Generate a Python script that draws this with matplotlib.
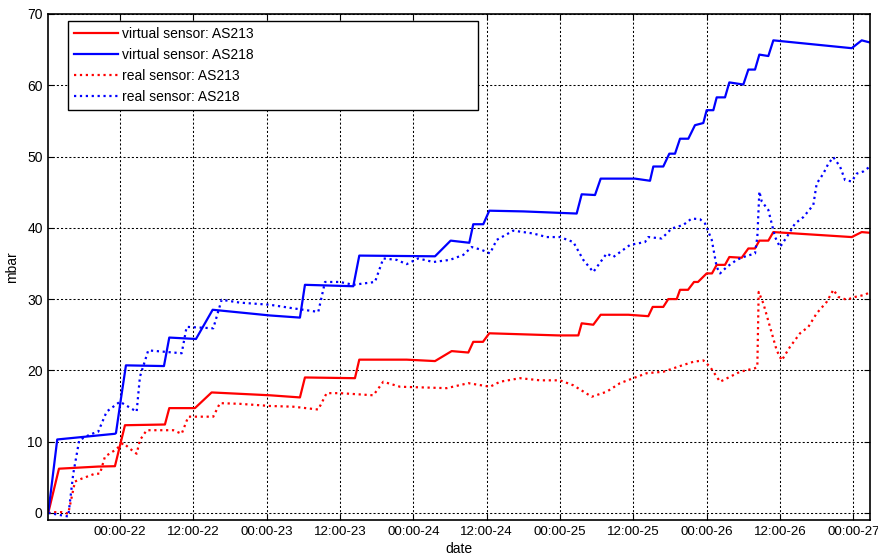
import matplotlib
matplotlib.use("Agg")
import matplotlib.pyplot as plt

plt.rcParams['font.family'] = ['Liberation Sans', 'DejaVu Sans']

# time axis in hours counted from 00:00 on day 22
t_virt_213 = [-11.73, -9.98, -3.55, -0.82, 0.82, 7.36, 8.07, 12.27, 15.0, 24.55, 29.45,
              30.27, 38.45, 39.16, 46.91, 51.55, 54.28, 57.0, 57.81, 59.40, 60.43,
              71.72, 75.0, 75.55, 77.45, 78.66, 83.18, 86.45, 87.17, 88.90, 89.72,
              91.10, 91.64, 92.95, 93.93, 94.58, 96.0, 96.87, 97.64, 99.0, 99.71,
              101.73, 102.82, 103.91, 104.62, 106.09, 106.91, 119.73, 121.37, 122.73]
v_virt_213 = [0, 6.2, 6.5, 6.55, 12.3, 12.4, 14.7, 14.7, 16.9, 16.5, 16.2,
              19.0, 18.9, 21.5, 21.5, 21.3, 22.7, 22.5, 24.0, 24.0, 25.2,
              24.9, 24.9, 26.6, 26.4, 27.8, 27.8, 27.6, 28.9, 28.9, 30.0,
              30.0, 31.3, 31.3, 32.4, 32.4, 33.6, 33.6, 34.8, 34.8, 35.9,
              35.8, 37.1, 37.1, 38.2, 38.2, 39.4, 38.7, 39.4, 39.3]

t_virt_218 = [-11.73, -10.26, -0.82, -0.65, 0.16, 0.98, 7.20, 8.07, 12.44, 15.17, 24.55,
              29.45, 30.27, 38.18, 39.16, 51.55, 54.11, 57.16, 57.81, 59.45, 60.43,
              66.0, 74.73, 75.55, 77.73, 78.66, 84.27, 86.73, 87.27, 88.90, 89.89,
              90.82, 91.64, 93.0, 94.09, 95.45, 96.0, 97.09, 97.64, 99.0, 99.71,
              102.0, 102.82, 103.91, 104.62, 106.09, 106.91, 119.73, 121.37, 122.73]
v_virt_218 = [0, 10.3, 11.1, 11.2, 16.0, 20.7, 20.6, 24.6, 24.4, 28.5, 27.7,
              27.4, 32.0, 31.8, 36.1, 36.0, 38.2, 37.9, 40.5, 40.5, 42.4,
              42.3, 42.0, 44.7, 44.6, 46.9, 46.9, 46.6, 48.6, 48.6, 50.4,
              50.4, 52.5, 52.5, 54.4, 54.7, 56.5, 56.5, 58.3, 58.3, 60.4,
              60.1, 62.2, 62.2, 64.3, 64.1, 66.3, 65.2, 66.3, 66.0]

t_real_213 = [-11.73, -10.91, -9.54, -8.46, -7.36, -6.27, -4.09, -3.27, -2.45, -0.82,
              0.54, 1.64, 2.73, 3.27, 4.37, 8.72, 10.10, 11.18, 15.27, 16.36,
              19.64, 24.55, 28.36, 32.45, 33.82, 36.0, 41.46, 43.09, 45.82, 53.46,
              57.0, 60.55, 62.18, 65.46, 68.73, 72.0, 74.18, 77.19, 79.64, 81.82,
              84.0, 86.19, 88.90, 91.64, 93.82, 95.45, 96.55, 98.19, 99.82, 101.46,
              103.91, 104.29, 104.51, 105.27, 106.36, 107.46, 108.28, 109.64, 111.28,
              112.64, 114.0, 115.64, 116.73, 117.55, 118.92, 120.28, 121.92, 122.73]
v_real_213 = [0, 0.1, 0.1, -0.1, 4.4, 4.8, 5.5, 5.5, 7.9, 8.8,
              9.8, 9.0, 8.3, 10.2, 11.6, 11.6, 11.1, 13.5, 13.5, 15.4,
              15.3, 15.0, 14.9, 14.5, 16.8, 16.8, 16.5, 18.4, 17.7, 17.5,
              18.2, 17.7, 18.4, 18.9, 18.6, 18.6, 17.9, 16.3, 17.0, 18.2,
              18.9, 19.6, 19.8, 20.6, 21.2, 21.4, 20.5, 18.4, 19.1, 19.8,
              20.3, 20.5, 31.0, 29.4, 26.1, 22.8, 21.4, 23.3, 25.2,
              26.1, 28.0, 29.6, 31.3, 30.3, 29.9, 30.3, 30.6, 31.0]

t_real_218 = [-11.73, -9.82, -8.46, -7.64, -6.66, -4.91, -3.55, -2.18, 0.0, 1.36,
              2.73, 3.27, 4.63, 7.36, 10.10, 10.91, 15.27, 16.64, 19.64, 24.55,
              28.36, 32.45, 33.55, 36.0, 38.18, 41.73, 43.09, 45.28, 46.91, 48.81,
              51.27, 54.0, 56.18, 57.55, 59.19, 60.55, 61.64, 64.36, 67.63, 69.83,
              72.0, 74.18, 75.81, 77.45, 79.64, 80.72, 83.46, 85.91, 86.45, 88.64,
              90.28, 92.18, 93.55, 94.91, 95.73, 96.83, 97.64, 98.19, 99.28, 100.92,
              102.0, 103.91, 104.29, 104.62, 105.01, 106.09, 107.19, 108.0, 109.10,
              110.46, 111.82, 113.45, 114.0, 115.09, 115.91, 116.73, 117.82, 118.64,
              119.73, 120.55, 121.63, 122.73]
v_real_218 = [0, -0.3, -0.5, 5.5, 10.2, 11.0, 11.4, 14.2, 15.6, 14.9,
              14.2, 19.1, 22.8, 22.6, 22.4, 26.1, 25.9, 29.9, 29.5, 29.2,
              28.7, 28.2, 32.4, 32.4, 32.0, 32.4, 35.7, 35.5, 34.9, 35.7,
              35.2, 35.5, 36.2, 37.3, 36.9, 36.4, 38.3, 39.6, 39.2, 38.7,
              38.7, 38.0, 35.5, 33.8, 36.4, 35.9, 37.6, 38.0, 38.7, 38.5,
              39.9, 40.4, 41.3, 41.2, 40.6, 38.3, 34.5, 33.6, 34.5, 35.5,
              35.9, 36.4, 38.7, 45.1, 43.7, 42.5, 38.7, 37.3, 38.7,
              40.6, 41.5, 43.2, 46.2, 47.6, 49.0, 49.9, 48.6, 46.7,
              46.5, 47.6, 47.9, 48.6]

tick_hours = [0, 12, 24, 36, 48, 60, 72, 84, 96, 108, 120]
tick_labels = ['00:00-22', '12:00-22', '00:00-23', '12:00-23', '00:00-24', '12:00-24',
               '00:00-25', '12:00-25', '00:00-26', '12:00-26', '00:00-27']

fig = plt.figure(figsize=(8.79, 5.57), dpi=100)
ax = fig.add_axes([0.0549, 0.0664, 0.9349, 0.9085])

ax.plot(t_virt_213, v_virt_213, color='r', lw=1.6, label='virtual sensor: AS213')
ax.plot(t_virt_218, v_virt_218, color='b', lw=1.6, label='virtual sensor: AS218')
ax.plot(t_real_213, v_real_213, color='r', lw=1.6, ls=':', label='real sensor: AS213')
ax.plot(t_real_218, v_real_218, color='b', lw=1.6, ls=':', label='real sensor: AS218')

ax.set_xlim(-11.73, 122.73)
ax.set_ylim(-1, 70)
ax.set_xticks(tick_hours)
ax.set_xticklabels(tick_labels)
ax.set_yticks(range(0, 71, 10))

ax.grid(True, color='k', ls=(0, (2, 2)), lw=0.75)
ax.tick_params(direction='in', top=True, right=True, length=4, width=0.8,
               labelsize=10, pad=4)
ax.tick_params(axis='x', labelsize=9.6)
for sp in ax.spines.values():
    sp.set_linewidth(1.2)

ax.set_xlabel('date', fontsize=10, labelpad=3)
ax.set_ylabel('mbar', fontsize=10, labelpad=6)

leg = ax.legend(loc='upper left', bbox_to_anchor=(0.0243, 0.0, 0.4988, 0.986),
                mode='expand', fontsize=10, frameon=True, fancybox=False,
                edgecolor='k', framealpha=1, borderpad=0.45, labelspacing=0.5,
                handlelength=3.15, handletextpad=0.3, borderaxespad=0)
leg.get_frame().set_linewidth(1.0)

fig.savefig('out.png', dpi=100)
